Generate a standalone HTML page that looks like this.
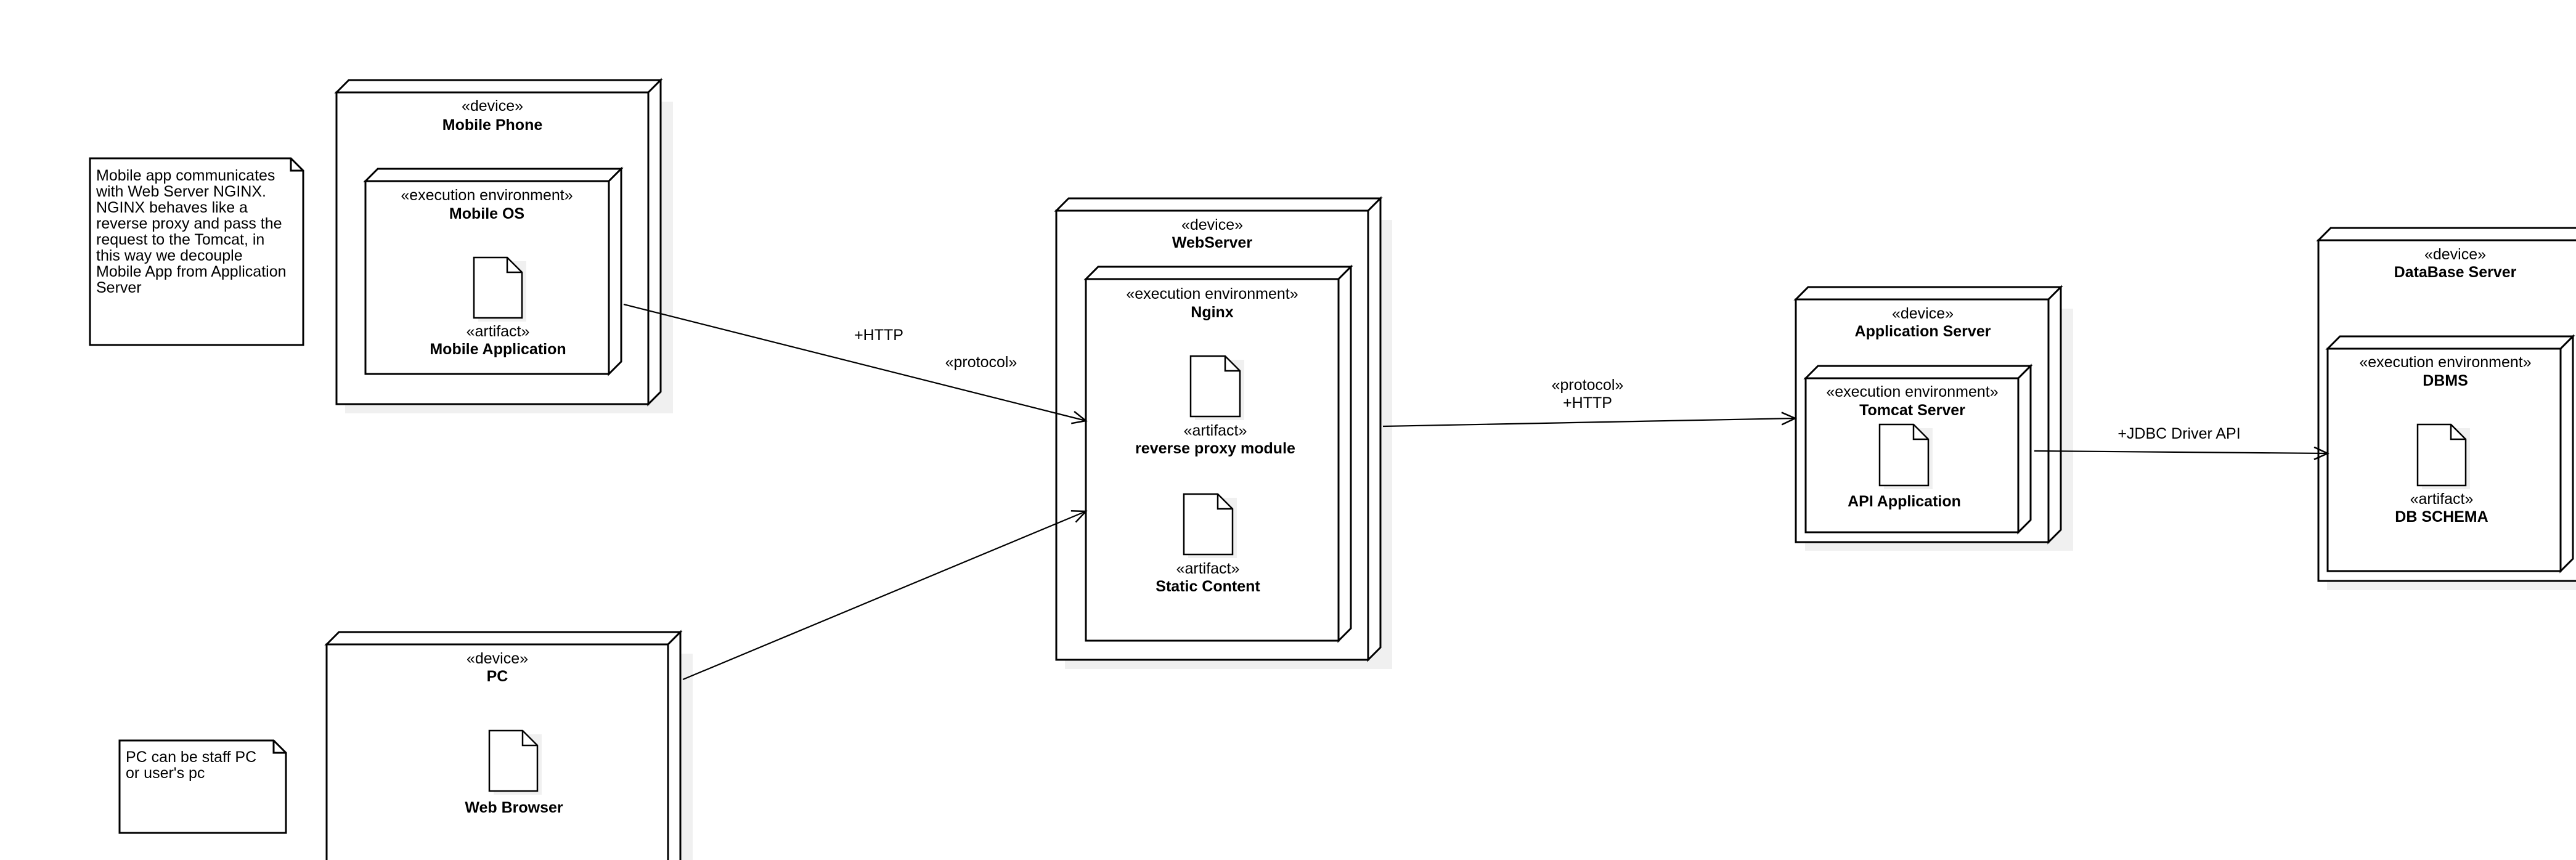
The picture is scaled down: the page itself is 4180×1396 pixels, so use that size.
<!DOCTYPE html>
<html><head><meta charset="utf-8">
<style>
html,body{margin:0;padding:0;background:#fff;}
svg{display:block;}
text{font-family:"Liberation Sans",Arial,sans-serif;font-size:25px;fill:#000;}
.b{font-weight:bold;}
</style></head>
<body>
<svg width="4180" height="1396" viewBox="0 0 4180 1396" xmlns="http://www.w3.org/2000/svg">
<defs>
<marker id="ah" markerWidth="30" markerHeight="30" refX="23" refY="11" orient="auto" markerUnits="userSpaceOnUse">
<path d="M1,1 L23,11 L1,21" fill="none" stroke="#000" stroke-width="2.5"/>
</marker>
</defs>
<g fill="#fff" stroke="#000" stroke-width="3">
<!-- shadows -->
<g fill="#f0f0f0" stroke="none">
<rect x="560" y="165" width="532" height="506"/>
<rect x="607" y="309" width="421" height="313"/>
<rect x="1728" y="357" width="531" height="729"/>
<rect x="1776" y="468" width="436" height="587"/>
<rect x="2929" y="501" width="435" height="393"/>
<rect x="2945" y="629" width="371" height="250"/>
<rect x="3776" y="405" width="410" height="553"/>
<rect x="3791" y="581" width="400" height="361"/>
<rect x="544" y="1061" width="580" height="340"/>
</g>

<!-- Mobile Phone -->
<polygon points="546,150 566,130 1072,130 1052,150"/>
<polygon points="1052,150 1072,130 1072,636 1052,656"/>
<rect x="546" y="150" width="506" height="506"/>
<!-- Mobile OS -->
<polygon points="593,294 613,274 1008,274 988,294"/>
<polygon points="988,294 1008,274 1008,587 988,607"/>
<rect x="593" y="294" width="395" height="313"/>

<!-- WebServer -->
<polygon points="1714,342 1734,322 2240,322 2220,342"/>
<polygon points="2220,342 2240,322 2240,1051 2220,1071"/>
<rect x="1714" y="342" width="506" height="729"/>
<!-- Nginx -->
<polygon points="1762,453 1782,433 2192,433 2172,453"/>
<polygon points="2172,453 2192,433 2192,1020 2172,1040"/>
<rect x="1762" y="453" width="410" height="587"/>

<!-- App Server -->
<polygon points="2914,486 2934,466 3344,466 3324,486"/>
<polygon points="3324,486 3344,466 3344,860 3324,880"/>
<rect x="2914" y="486" width="410" height="394"/>
<!-- Tomcat -->
<polygon points="2930,614 2950,594 3295,594 3275,614"/>
<polygon points="3275,614 3295,594 3295,844 3275,864"/>
<rect x="2930" y="614" width="345" height="250"/>

<!-- DB Server -->
<polygon points="3762,390 3782,370 4230,370 4210,390"/>
<rect x="3762" y="390" width="448" height="553"/>
<!-- DBMS -->
<polygon points="3777,566 3797,546 4175,546 4155,566"/>
<polygon points="4155,566 4175,546 4175,907 4155,927"/>
<rect x="3777" y="566" width="378" height="361"/>

<!-- PC -->
<polygon points="530,1046 550,1026 1104,1026 1084,1046"/>
<polygon points="1084,1046 1104,1026 1104,1420 1084,1420"/>
<rect x="530" y="1046" width="554" height="380"/>

<!-- Notes -->
<path d="M146,257 L472,257 L492,277 L492,560 L146,560 Z"/>
<path d="M472,257 L472,277 L492,277" fill="none"/>
<path d="M194,1202 L444,1202 L464,1222 L464,1352 L194,1352 Z"/>
<path d="M444,1202 L444,1222 L464,1222" fill="none"/>
</g>

<!-- artifacts -->
<g stroke="#000" stroke-width="2.5">
<g id="art">
</g>
<rect x="776" y="424" width="78" height="98" fill="#f0f0f0" stroke="none"/>
<path d="M769,418 L823,418 L847,442 L847,516 L769,516 Z" fill="#fff"/><path d="M823,418 L823,442 L847,442" fill="none"/>
<rect x="1939" y="584" width="80" height="98" fill="#f0f0f0" stroke="none"/>
<path d="M1932,578 L1988,578 L2012,602 L2012,676 L1932,676 Z" fill="#fff"/><path d="M1988,578 L1988,602 L2012,602" fill="none"/>
<rect x="1928" y="808" width="79" height="98" fill="#f0f0f0" stroke="none"/>
<path d="M1921,802 L1976,802 L2000,826 L2000,900 L1921,900 Z" fill="#fff"/><path d="M1976,802 L1976,826 L2000,826" fill="none"/>
<rect x="3057" y="695" width="79" height="99" fill="#f0f0f0" stroke="none"/>
<path d="M3050,689 L3105,689 L3129,713 L3129,788 L3050,788 Z" fill="#fff"/><path d="M3105,689 L3105,713 L3129,713" fill="none"/>
<rect x="3930" y="695" width="78" height="99" fill="#f0f0f0" stroke="none"/>
<path d="M3923,689 L3977,689 L4001,713 L4001,788 L3923,788 Z" fill="#fff"/><path d="M3977,689 L3977,713 L4001,713" fill="none"/>
<rect x="801" y="1192" width="78" height="98" fill="#f0f0f0" stroke="none"/>
<path d="M794,1186 L848,1186 L872,1210 L872,1284 L794,1284 Z" fill="#fff"/><path d="M848,1186 L848,1210 L872,1210" fill="none"/>
</g>

<!-- connectors -->
<g stroke="#000" stroke-width="2.2" fill="none" marker-end="url(#ah)">
<line x1="1012" y1="494" x2="1762" y2="683"/>
<line x1="1108" y1="1103" x2="1762" y2="830"/>
<line x1="2244" y1="692" x2="2913" y2="679"/>
<line x1="3301" y1="732" x2="3777" y2="736"/>
</g>

<!-- text -->
<g text-anchor="middle">
<text x="799" y="180">«device»</text>
<text x="799" y="211" class="b">Mobile Phone</text>
<text x="790" y="325">«execution environment»</text>
<text x="790" y="355" class="b">Mobile OS</text>
<text x="808" y="546">«artifact»</text>
<text x="808" y="575" class="b">Mobile Application</text>

<text x="1967" y="373">«device»</text>
<text x="1967" y="402" class="b">WebServer</text>
<text x="1967" y="485">«execution environment»</text>
<text x="1967" y="515" class="b">Nginx</text>
<text x="1972" y="707">«artifact»</text>
<text x="1972" y="736" class="b">reverse proxy module</text>
<text x="1960" y="931">«artifact»</text>
<text x="1960" y="960" class="b">Static Content</text>

<text x="3120" y="517">«device»</text>
<text x="3120" y="546" class="b">Application Server</text>
<text x="3103" y="644">«execution environment»</text>
<text x="3103" y="674" class="b">Tomcat Server</text>
<text x="3090" y="822" class="b">API Application</text>

<text x="3984" y="421">«device»</text>
<text x="3984" y="450" class="b">DataBase Server</text>
<text x="3968" y="596">«execution environment»</text>
<text x="3968" y="626" class="b">DBMS</text>
<text x="3962" y="818">«artifact»</text>
<text x="3962" y="847" class="b">DB SCHEMA</text>

<text x="807" y="1077">«device»</text>
<text x="807" y="1106" class="b">PC</text>
<text x="834" y="1319" class="b">Web Browser</text>

<text x="1426" y="552">+HTTP</text>
<text x="1592" y="596">«protocol»</text>
<text x="2576" y="633">«protocol»</text>
<text x="2576" y="662">+HTTP</text>
<text x="3536" y="712">+JDBC Driver API</text>
</g>
<g>
<text x="156" y="293">Mobile app communicates</text>
<text x="156" y="319">with Web Server NGINX.</text>
<text x="156" y="345">NGINX behaves like a</text>
<text x="156" y="371">reverse proxy and pass the</text>
<text x="156" y="397">request to the Tomcat, in</text>
<text x="156" y="423">this way we decouple</text>
<text x="156" y="449">Mobile App from Application</text>
<text x="156" y="475">Server</text>
<text x="204" y="1237">PC can be staff PC</text>
<text x="204" y="1263">or user's pc</text>
</g>
</svg>
</body></html>
